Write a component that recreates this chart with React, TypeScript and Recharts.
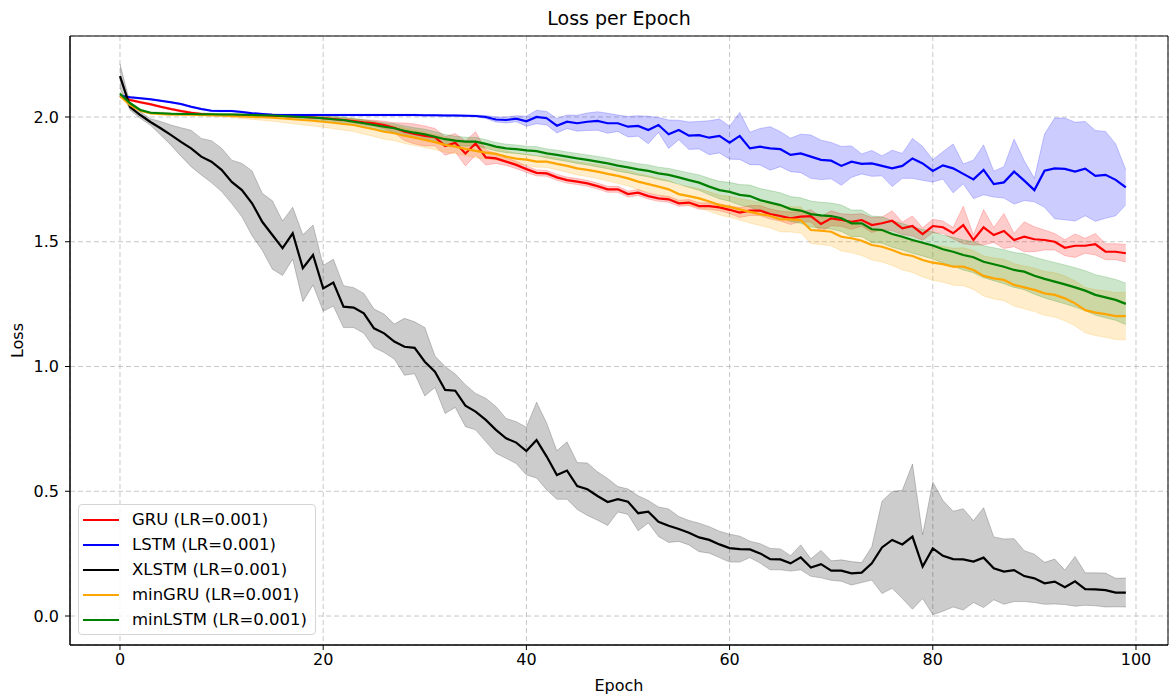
import {
  Area,
  CartesianGrid,
  ComposedChart,
  Line,
  ReferenceArea,
  XAxis,
  YAxis,
} from "recharts";

const X_MIN = -4.92;
const X_MAX = 103.15;
const Y_MIN = -0.1162;
const Y_MAX = 2.3246;
const X_TICKS = [0, 20, 40, 60, 80, 100];
const Y_TICKS = [0, 0.5, 1.0, 1.5, 2.0];

const gruMean = [
  2.083, 2.068, 2.059, 2.051, 2.041, 2.032, 2.024, 2.017, 2.012, 2.009,
  2.008, 2.008, 2.007, 2.007, 2.006, 2.005, 2.004, 2.002, 2.0, 1.998,
  1.995, 1.992, 1.988, 1.984, 1.979, 1.975, 1.968, 1.957, 1.941, 1.932,
  1.924, 1.919, 1.884, 1.897, 1.854, 1.894, 1.838, 1.834, 1.821, 1.808,
  1.791, 1.776, 1.774, 1.758, 1.747, 1.741, 1.734, 1.723, 1.71, 1.71,
  1.691, 1.697, 1.683, 1.674, 1.67, 1.654, 1.657, 1.643, 1.643, 1.638,
  1.628, 1.617, 1.625, 1.625, 1.611, 1.603, 1.594, 1.601, 1.603, 1.571,
  1.594, 1.587, 1.58, 1.587, 1.567, 1.574, 1.584, 1.554, 1.563, 1.531,
  1.563, 1.558, 1.534, 1.567, 1.507, 1.558, 1.527, 1.543, 1.507, 1.52,
  1.51, 1.507, 1.5, 1.476, 1.484, 1.484, 1.49, 1.46, 1.46, 1.454,
];
const gruStd = [
  0.004, 0.004, 0.004, 0.004, 0.004, 0.004, 0.004, 0.004, 0.004, 0.004,
  0.004, 0.004, 0.004, 0.004, 0.004, 0.004, 0.004, 0.004, 0.004, 0.004,
  0.005, 0.006, 0.007, 0.008, 0.01, 0.012, 0.015, 0.02, 0.035, 0.04,
  0.04, 0.035, 0.037, 0.037, 0.05, 0.047, 0.03, 0.02, 0.015, 0.015,
  0.013, 0.012, 0.012, 0.012, 0.012, 0.012, 0.012, 0.012, 0.012, 0.012,
  0.012, 0.012, 0.012, 0.012, 0.012, 0.012, 0.012, 0.013, 0.013, 0.014,
  0.015, 0.02, 0.02, 0.02, 0.02, 0.02, 0.025, 0.02, 0.025, 0.03,
  0.03, 0.025, 0.03, 0.025, 0.03, 0.025, 0.04, 0.025, 0.04, 0.025,
  0.027, 0.025, 0.023, 0.075, 0.02, 0.071, 0.03, 0.07, 0.027, 0.06,
  0.05, 0.04, 0.033, 0.032, 0.047, 0.03, 0.043, 0.032, 0.032, 0.035,
];

const lstmMean = [
  2.085, 2.079, 2.075, 2.071, 2.065, 2.059, 2.052, 2.041, 2.032, 2.025,
  2.024, 2.024, 2.02, 2.015, 2.012, 2.009, 2.008, 2.008, 2.008, 2.008,
  2.008, 2.008, 2.008, 2.008, 2.008, 2.008, 2.008, 2.008, 2.008, 2.008,
  2.007, 2.007, 2.006, 2.006, 2.005, 2.004, 2.0, 1.99, 1.988, 1.993,
  1.983, 2.0, 1.995, 1.965, 1.981, 1.975, 1.981, 1.984, 1.975, 1.975,
  1.961, 1.964, 1.948, 1.968, 1.931, 1.948, 1.925, 1.927, 1.917, 1.924,
  1.897, 1.924, 1.874, 1.881, 1.874, 1.871, 1.848, 1.854, 1.841, 1.828,
  1.825, 1.804, 1.821, 1.812, 1.814, 1.804, 1.794, 1.804, 1.834, 1.814,
  1.784, 1.806, 1.794, 1.772, 1.75, 1.788, 1.731, 1.738, 1.781, 1.745,
  1.707, 1.785, 1.794, 1.792, 1.781, 1.793, 1.764, 1.768, 1.748, 1.718,
];
const lstmStd = [
  0.003, 0.003, 0.003, 0.003, 0.003, 0.003, 0.003, 0.003, 0.003, 0.003,
  0.003, 0.003, 0.003, 0.003, 0.003, 0.003, 0.003, 0.003, 0.003, 0.003,
  0.003, 0.003, 0.003, 0.003, 0.003, 0.003, 0.003, 0.003, 0.003, 0.003,
  0.003, 0.003, 0.003, 0.003, 0.003, 0.003, 0.006, 0.01, 0.012, 0.012,
  0.02, 0.027, 0.027, 0.029, 0.027, 0.032, 0.035, 0.037, 0.04, 0.033,
  0.041, 0.041, 0.055, 0.03, 0.057, 0.039, 0.055, 0.055, 0.068, 0.068,
  0.066, 0.094, 0.065, 0.073, 0.087, 0.07, 0.067, 0.077, 0.087, 0.079,
  0.073, 0.078, 0.063, 0.04, 0.052, 0.04, 0.073, 0.05, 0.08, 0.068,
  0.045, 0.055, 0.098, 0.04, 0.077, 0.1, 0.052, 0.063, 0.13, 0.08,
  0.047, 0.147, 0.202, 0.204, 0.198, 0.189, 0.182, 0.174, 0.144, 0.07,
];

const xlstmMean = [
  2.164, 2.04, 2.008, 1.98, 1.955, 1.928, 1.9, 1.874, 1.841, 1.821,
  1.788, 1.74, 1.707, 1.654, 1.58, 1.527, 1.474, 1.534, 1.394, 1.447,
  1.313, 1.336, 1.24, 1.236, 1.213, 1.153, 1.133, 1.1, 1.079, 1.075,
  1.019, 0.979, 0.906, 0.903, 0.843, 0.819, 0.786, 0.746, 0.712, 0.695,
  0.661, 0.705, 0.639, 0.565, 0.583, 0.521, 0.508, 0.481, 0.457, 0.468,
  0.458, 0.412, 0.418, 0.378, 0.362, 0.349, 0.334, 0.315, 0.305, 0.287,
  0.272, 0.268, 0.267, 0.251, 0.228, 0.227, 0.211, 0.235, 0.194, 0.208,
  0.182, 0.182, 0.171, 0.174, 0.211, 0.275, 0.305, 0.287, 0.318, 0.198,
  0.271, 0.241, 0.228, 0.227, 0.218, 0.234, 0.191, 0.178, 0.184, 0.16,
  0.151, 0.131, 0.138, 0.115, 0.139, 0.108, 0.107, 0.104, 0.094, 0.094,
];
const xlstmStd = [
  0.049, 0.013, 0.013, 0.013, 0.027, 0.04, 0.057, 0.073, 0.073, 0.084,
  0.087, 0.087, 0.107, 0.13, 0.114, 0.137, 0.109, 0.104, 0.134, 0.12,
  0.092, 0.094, 0.084, 0.08, 0.08, 0.077, 0.077, 0.07, 0.114, 0.104,
  0.137, 0.063, 0.094, 0.067, 0.084, 0.073, 0.087, 0.094, 0.08, 0.084,
  0.096, 0.152, 0.134, 0.097, 0.115, 0.094, 0.105, 0.097, 0.094, 0.051,
  0.051, 0.07, 0.045, 0.059, 0.067, 0.05, 0.049, 0.057, 0.053, 0.053,
  0.056, 0.052, 0.033, 0.039, 0.043, 0.042, 0.031, 0.05, 0.035, 0.055,
  0.039, 0.043, 0.047, 0.04, 0.067, 0.185, 0.194, 0.217, 0.291, 0.128,
  0.266, 0.222, 0.192, 0.203, 0.164, 0.2, 0.126, 0.131, 0.126, 0.102,
  0.097, 0.084, 0.09, 0.069, 0.1, 0.065, 0.066, 0.068, 0.057, 0.058,
];

const minGruMean = [
  2.085, 2.048, 2.025, 2.015, 2.012, 2.01, 2.01, 2.009, 2.008, 2.007,
  2.006, 2.004, 2.002, 2.0, 1.999, 1.997, 1.994, 1.991, 1.988, 1.985,
  1.981, 1.977, 1.972, 1.968, 1.959, 1.951, 1.941, 1.935, 1.925, 1.917,
  1.908, 1.899, 1.888, 1.881, 1.872, 1.864, 1.857, 1.852, 1.841, 1.833,
  1.829, 1.821, 1.821, 1.812, 1.804, 1.794, 1.788, 1.781, 1.772, 1.764,
  1.754, 1.741, 1.731, 1.721, 1.71, 1.691, 1.683, 1.674, 1.661, 1.647,
  1.64, 1.63, 1.62, 1.611, 1.603, 1.59, 1.59, 1.587, 1.547, 1.544,
  1.54, 1.52, 1.514, 1.504, 1.487, 1.48, 1.467, 1.451, 1.443, 1.427,
  1.416, 1.41, 1.4, 1.4, 1.387, 1.363, 1.353, 1.347, 1.327, 1.317,
  1.307, 1.293, 1.287, 1.273, 1.253, 1.226, 1.216, 1.21, 1.202, 1.202,
];
const minGruStd = [
  0.008, 0.006, 0.004, 0.004, 0.004, 0.004, 0.004, 0.004, 0.004, 0.004,
  0.005, 0.006, 0.008, 0.01, 0.012, 0.014, 0.016, 0.018, 0.02, 0.021,
  0.022, 0.024, 0.025, 0.026, 0.028, 0.029, 0.03, 0.03, 0.031, 0.031,
  0.03, 0.03, 0.029, 0.028, 0.027, 0.026, 0.025, 0.024, 0.023, 0.022,
  0.022, 0.022, 0.023, 0.024, 0.025, 0.026, 0.027, 0.028, 0.029, 0.03,
  0.031, 0.032, 0.033, 0.034, 0.035, 0.036, 0.037, 0.038, 0.039, 0.04,
  0.042, 0.043, 0.045, 0.046, 0.048, 0.05, 0.051, 0.052, 0.054, 0.055,
  0.056, 0.057, 0.058, 0.059, 0.06, 0.061, 0.062, 0.064, 0.066, 0.068,
  0.07, 0.072, 0.074, 0.076, 0.078, 0.08, 0.082, 0.083, 0.085, 0.086,
  0.087, 0.088, 0.089, 0.09, 0.09, 0.091, 0.092, 0.093, 0.094, 0.095,
];

const minLstmMean = [
  2.093, 2.055, 2.028, 2.017, 2.015, 2.013, 2.012, 2.012, 2.011, 2.011,
  2.01, 2.01, 2.009, 2.008, 2.007, 2.006, 2.004, 2.002, 2.0, 1.998,
  1.995, 1.991, 1.988, 1.981, 1.975, 1.968, 1.961, 1.955, 1.945, 1.937,
  1.931, 1.921, 1.911, 1.905, 1.901, 1.901, 1.892, 1.881, 1.874, 1.871,
  1.866, 1.863, 1.854, 1.848, 1.841, 1.834, 1.828, 1.821, 1.814, 1.805,
  1.798, 1.79, 1.784, 1.774, 1.768, 1.758, 1.747, 1.737, 1.721, 1.707,
  1.7, 1.688, 1.683, 1.667, 1.657, 1.647, 1.631, 1.625, 1.611, 1.606,
  1.603, 1.594, 1.574, 1.574, 1.55, 1.547, 1.531, 1.52, 1.507, 1.496,
  1.485, 1.47, 1.46, 1.447, 1.438, 1.42, 1.41, 1.4, 1.387, 1.38,
  1.364, 1.351, 1.34, 1.329, 1.317, 1.304, 1.287, 1.277, 1.267, 1.251,
];
const minLstmStd = [
  0.006, 0.005, 0.004, 0.004, 0.004, 0.004, 0.004, 0.004, 0.004, 0.004,
  0.004, 0.004, 0.004, 0.004, 0.005, 0.005, 0.006, 0.007, 0.008, 0.009,
  0.01, 0.011, 0.012, 0.013, 0.014, 0.015, 0.016, 0.018, 0.019, 0.02,
  0.02, 0.02, 0.019, 0.018, 0.018, 0.017, 0.017, 0.017, 0.017, 0.017,
  0.017, 0.018, 0.018, 0.019, 0.019, 0.02, 0.02, 0.021, 0.021, 0.022,
  0.022, 0.023, 0.024, 0.025, 0.026, 0.027, 0.029, 0.031, 0.033, 0.035,
  0.038, 0.041, 0.044, 0.046, 0.048, 0.049, 0.05, 0.051, 0.052, 0.052,
  0.052, 0.053, 0.053, 0.053, 0.053, 0.053, 0.053, 0.053, 0.053, 0.053,
  0.054, 0.056, 0.058, 0.06, 0.062, 0.064, 0.066, 0.068, 0.07, 0.072,
  0.074, 0.076, 0.077, 0.078, 0.079, 0.08, 0.081, 0.082, 0.082, 0.083,
];

const SERIES = [
  { key: "gru", label: "GRU (LR=0.001)", color: "#ff0000", mean: gruMean, std: gruStd },
  { key: "lstm", label: "LSTM (LR=0.001)", color: "#0000ff", mean: lstmMean, std: lstmStd },
  { key: "xlstm", label: "XLSTM (LR=0.001)", color: "#000000", mean: xlstmMean, std: xlstmStd },
  { key: "minGru", label: "minGRU (LR=0.001)", color: "#ffa500", mean: minGruMean, std: minGruStd },
  { key: "minLstm", label: "minLSTM (LR=0.001)", color: "#008000", mean: minLstmMean, std: minLstmStd },
];

const data = gruMean.map((_, i) => {
  const row: Record<string, number | number[]> = { epoch: i };
  for (const s of SERIES) {
    row[s.key] = s.mean[i];
    row[s.key + "Band"] = [s.mean[i] - s.std[i], s.mean[i] + s.std[i]];
  }
  return row;
});

function LegendBox() {
  return (
    <div
      style={{
        position: "absolute",
        left: 78,
        top: 504,
        width: 238,
        height: 131,
        boxSizing: "border-box",
        border: "1px solid #d5d5d5",
        borderRadius: 4,
        background: "rgba(255,255,255,0.8)",
        padding: "2px 0 0 4px",
      }}
    >
      {SERIES.map((s) => (
        <div key={s.key} style={{ display: "flex", alignItems: "center", height: 25 }}>
          <span style={{ display: "inline-block", width: 36, height: 2, background: s.color, marginRight: 13 }} />
          <span style={{ fontSize: 16.5, color: "#000", whiteSpace: "nowrap" }}>{s.label}</span>
        </div>
      ))}
    </div>
  );
}

export default function App() {
  return (
    <div
      style={{
        position: "absolute",
        left: 0,
        top: 0,
        width: 1170,
        height: 696,
        background: "#fff",
        fontFamily: "'DejaVu Sans', sans-serif",
      }}
    >
      <div
        style={{
          position: "absolute",
          left: 70,
          top: 7,
          width: 1098,
          textAlign: "center",
          fontSize: 19,
          color: "#000",
        }}
      >
        Loss per Epoch
      </div>
      <ComposedChart
        width={1170}
        height={696}
        data={data}
        margin={{ top: 36, right: 2, bottom: 0, left: 0 }}
      >
        <CartesianGrid stroke="#b0b0b0" strokeOpacity={0.7} strokeDasharray="5 3" />
        <XAxis
          type="number"
          dataKey="epoch"
          domain={[X_MIN, X_MAX]}
          ticks={X_TICKS}
          allowDataOverflow
          height={51}
          tick={{ fontSize: 16, fill: "#000" }}
          tickSize={5}
          tickMargin={4}
          tickLine={{ stroke: "#000" }}
          axisLine={{ stroke: "#000" }}
          label={{ value: "Epoch", position: "insideBottom", offset: 5, fontSize: 16, fill: "#000" }}
        />
        <YAxis
          type="number"
          domain={[Y_MIN, Y_MAX]}
          ticks={Y_TICKS}
          allowDataOverflow
          width={70}
          tickFormatter={(v: number) => v.toFixed(1)}
          tick={{ fontSize: 16, fill: "#000" }}
          tickSize={5}
          tickMargin={6}
          tickLine={{ stroke: "#000" }}
          axisLine={{ stroke: "#000" }}
          label={{
            value: "Loss",
            angle: -90,
            position: "insideLeft",
            offset: 17,
            fontSize: 16,
            fill: "#000",
            style: { textAnchor: "middle" },
          }}
        />
        {SERIES.flatMap((s) => [
          <Area
            key={s.key + "Band"}
            type="linear"
            dataKey={s.key + "Band"}
            stroke={s.color}
            strokeOpacity={0.2}
            strokeWidth={1}
            fill={s.color}
            fillOpacity={0.2}
            dot={false}
            activeDot={false}
            legendType="none"
            isAnimationActive={false}
          />,
          <Line
            key={s.key}
            type="linear"
            dataKey={s.key}
            name={s.label}
            stroke={s.color}
            strokeWidth={2.2}
            dot={false}
            activeDot={false}
            isAnimationActive={false}
          />,
        ])}
        <ReferenceArea
          x1={X_MIN}
          x2={X_MAX}
          y1={Y_MIN}
          y2={Y_MAX}
          fill="none"
          stroke="#000"
          strokeWidth={1}
          ifOverflow="visible"
        />
      </ComposedChart>
      <LegendBox />
    </div>
  );
}
